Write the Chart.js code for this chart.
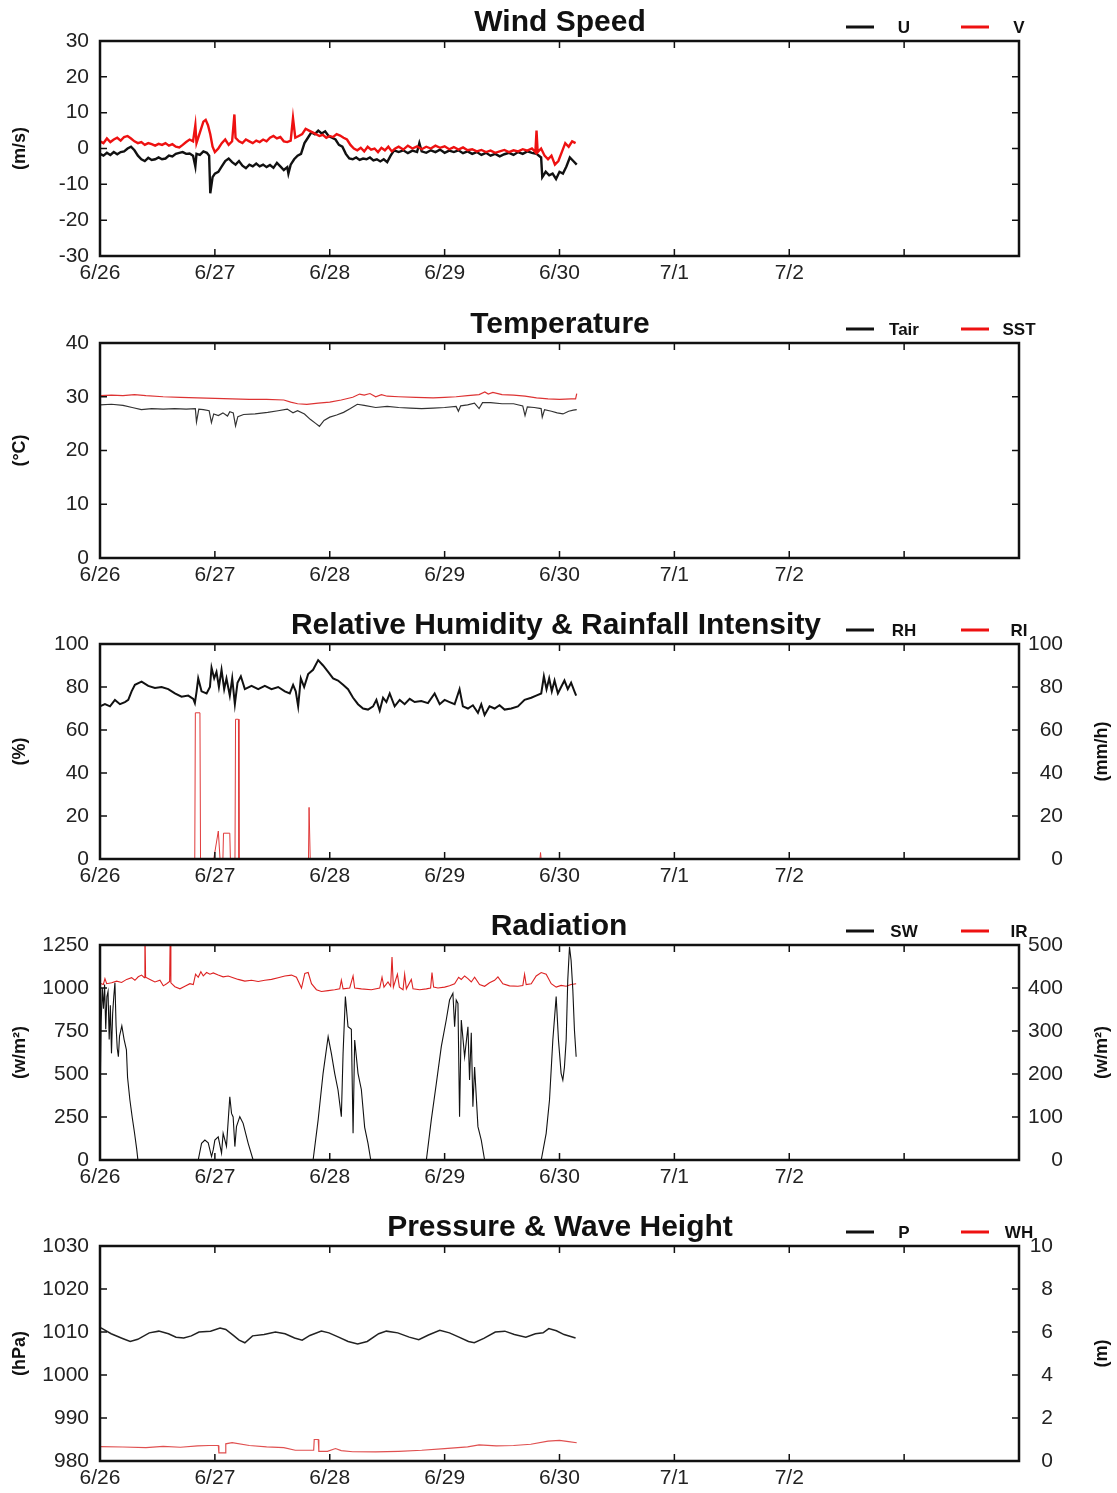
<!DOCTYPE html>
<html>
<head>
<meta charset="utf-8">
<title>Buoy observations 6/26 - 7/4</title>
<script src="https://cdn.jsdelivr.net/npm/chart.js@4.4.0/dist/chart.umd.min.js"></script>
<style>
  body { margin: 0; background: #fff; overflow: hidden; }
  #wrap { position: relative; width: 1117px; height: 1493px; }
  .panel { position: absolute; left: 0; width: 1117px; }
  canvas { display: block; }
</style>
</head>
<body>
<div id="wrap">
  <div class="panel" style="top:0px"><canvas id="wind" width="1117" height="301"></canvas></div>
  <div class="panel" style="top:302px"><canvas id="temp" width="1117" height="301"></canvas></div>
  <div class="panel" style="top:603px"><canvas id="humid" width="1117" height="301"></canvas></div>
  <div class="panel" style="top:904px"><canvas id="rad" width="1117" height="301"></canvas></div>
  <div class="panel" style="top:1205px"><canvas id="press" width="1117" height="288"></canvas></div>
</div>
<script>
// time axis: days since 6/26 00:00
const dayLabels = ['6/26', '6/27', '6/28', '6/29', '6/30', '7/1', '7/2', '', ''];

// [day, m/s]
const uWind = [
  [0.00,-1.5],[0.03,-2.0],[0.06,-1.2],[0.09,-1.8],[0.12,-1.0],[0.15,-1.6],[0.18,-1.0],[0.21,-0.8],
  [0.24,0.0],[0.27,0.5],[0.30,-0.5],[0.33,-2.0],[0.36,-3.0],[0.39,-3.5],[0.42,-2.6],[0.45,-3.2],
  [0.48,-3.0],[0.51,-2.5],[0.54,-3.0],[0.57,-2.8],[0.60,-2.0],[0.63,-2.2],[0.66,-1.5],[0.69,-1.2],
  [0.72,-1.0],[0.75,-1.5],[0.78,-1.4],[0.81,-2.0],[0.83,-5.0],[0.84,-1.5],[0.87,-1.8],[0.90,-0.8],
  [0.93,-1.2],[0.95,-2.0],[0.96,-12.5],[0.98,-8.0],[1.00,-7.0],[1.03,-6.5],[1.06,-5.0],[1.09,-3.5],
  [1.12,-2.8],[1.15,-3.8],[1.18,-4.5],[1.21,-3.5],[1.24,-4.8],[1.27,-5.5],[1.30,-4.5],[1.33,-5.0],
  [1.36,-4.2],[1.39,-5.0],[1.42,-4.5],[1.45,-5.2],[1.48,-4.6],[1.51,-5.4],[1.54,-4.0],[1.57,-5.0],
  [1.60,-6.0],[1.63,-5.2],[1.64,-7.0],[1.66,-4.5],[1.69,-3.0],[1.72,-2.0],[1.75,-1.5],[1.78,1.5],
  [1.81,3.0],[1.84,4.5],[1.87,4.0],[1.90,5.0],[1.93,4.2],[1.96,4.8],[1.99,3.5],[2.02,3.0],
  [2.05,2.5],[2.08,1.0],[2.11,0.5],[2.14,-1.5],[2.17,-2.8],[2.20,-3.0],[2.23,-2.5],[2.26,-3.2],
  [2.29,-2.8],[2.32,-3.0],[2.35,-2.5],[2.38,-3.3],[2.41,-3.0],[2.44,-3.6],[2.47,-3.0],[2.50,-3.8],
  [2.53,-2.0],[2.56,-0.5],[2.60,-1.0],[2.64,-0.5],[2.68,-1.3],[2.72,-0.6],[2.76,-1.0],[2.78,1.5],
  [2.80,-0.8],[2.84,-1.2],[2.88,-0.5],[2.92,-1.0],[2.96,-0.3],[3.00,-1.2],[3.04,-0.6],[3.08,-1.0],
  [3.12,-0.5],[3.16,-1.3],[3.20,-0.8],[3.24,-1.5],[3.28,-1.0],[3.32,-1.8],[3.36,-1.2],[3.40,-2.0],
  [3.44,-1.5],[3.48,-2.2],[3.52,-1.6],[3.56,-1.2],[3.60,-1.8],[3.64,-1.0],[3.68,-1.5],[3.72,-0.8],
  [3.76,-1.2],[3.80,-1.5],[3.84,-2.5],[3.85,-8.0],[3.88,-6.5],[3.91,-7.5],[3.94,-7.0],[3.97,-8.5],
  [4.00,-6.5],[4.03,-7.0],[4.06,-5.0],[4.09,-2.5],[4.12,-3.5],[4.15,-4.5]
];
const vWind = [
  [0.00,2.0],[0.03,1.5],[0.06,2.8],[0.09,1.8],[0.12,2.5],[0.15,3.0],[0.18,2.2],[0.21,3.2],
  [0.24,3.5],[0.27,2.8],[0.30,2.0],[0.33,1.5],[0.36,1.8],[0.39,1.0],[0.42,1.5],[0.45,1.2],
  [0.48,0.8],[0.51,1.3],[0.54,1.0],[0.57,1.5],[0.60,0.8],[0.63,1.2],[0.66,0.5],[0.69,0.3],
  [0.72,1.0],[0.75,1.8],[0.78,2.5],[0.81,2.0],[0.83,6.5],[0.84,1.5],[0.87,4.5],[0.90,7.5],
  [0.92,8.0],[0.94,6.5],[0.96,4.0],[0.98,0.5],[1.00,-1.0],[1.03,0.0],[1.06,1.5],[1.09,2.5],
  [1.12,1.0],[1.15,2.0],[1.17,9.5],[1.18,3.0],[1.21,2.0],[1.24,1.5],[1.27,2.5],[1.30,2.0],
  [1.33,1.5],[1.36,2.2],[1.39,1.8],[1.42,2.5],[1.45,2.0],[1.48,3.0],[1.51,3.5],[1.54,2.8],
  [1.57,3.2],[1.60,2.0],[1.63,1.8],[1.66,2.2],[1.68,8.5],[1.70,3.0],[1.73,3.5],[1.76,4.0],
  [1.79,5.5],[1.82,5.0],[1.85,4.5],[1.88,4.0],[1.91,3.5],[1.94,3.8],[1.97,3.0],[2.00,3.5],
  [2.03,3.2],[2.06,4.0],[2.09,3.6],[2.12,3.0],[2.15,2.5],[2.18,1.0],[2.21,0.0],[2.24,-0.5],
  [2.27,0.2],[2.30,-0.8],[2.33,0.5],[2.36,-0.3],[2.39,0.0],[2.42,-1.0],[2.45,0.2],[2.48,-0.5],
  [2.51,0.5],[2.54,-0.8],[2.57,0.0],[2.60,0.5],[2.64,-0.3],[2.68,0.8],[2.72,0.0],[2.76,0.6],
  [2.80,-0.2],[2.84,0.5],[2.88,0.0],[2.92,0.8],[2.96,0.2],[3.00,0.6],[3.04,-0.2],[3.08,0.4],
  [3.12,-0.3],[3.16,0.3],[3.20,-0.5],[3.24,-0.2],[3.28,-0.8],[3.32,-0.4],[3.36,-1.0],[3.40,-0.6],
  [3.44,-1.2],[3.48,-0.8],[3.52,-0.4],[3.56,-1.0],[3.60,-0.5],[3.64,-0.8],[3.68,-0.2],[3.72,-0.6],
  [3.76,0.0],[3.79,-1.0],[3.80,5.0],[3.81,-1.0],[3.84,0.0],[3.87,-2.0],[3.90,-3.0],[3.93,-2.0],
  [3.96,-4.5],[3.99,-3.5],[4.02,-1.0],[4.05,1.5],[4.08,0.5],[4.11,2.0],[4.14,1.5]
];

// [day, deg C]
const airTemp = [
  [0.00,28.5],[0.10,28.6],[0.20,28.4],[0.28,28.0],[0.36,27.6],[0.45,27.8],[0.55,27.7],[0.65,27.8],
  [0.75,27.7],[0.83,27.8],[0.84,25.3],[0.86,27.7],[0.90,27.6],[0.95,27.4],[0.97,25.2],[0.99,26.8],
  [1.03,26.5],[1.07,27.0],[1.11,26.4],[1.13,27.2],[1.16,27.0],[1.18,24.6],[1.20,26.3],[1.25,26.7],
  [1.35,26.8],[1.46,27.1],[1.55,27.4],[1.63,27.7],[1.68,27.0],[1.72,27.4],[1.78,26.8],[1.83,25.8],
  [1.88,25.0],[1.91,24.5],[1.95,25.6],[2.00,26.2],[2.06,26.6],[2.12,27.1],[2.18,27.8],[2.24,28.6],
  [2.30,28.4],[2.40,28.0],[2.50,28.2],[2.60,28.0],[2.70,27.9],[2.80,27.8],[2.90,27.9],[3.00,28.0],
  [3.10,28.2],[3.12,27.3],[3.14,28.3],[3.20,28.5],[3.26,28.8],[3.30,27.8],[3.33,28.9],[3.40,28.9],
  [3.50,28.7],[3.60,28.7],[3.68,28.3],[3.70,26.5],[3.72,28.1],[3.78,28.0],[3.84,27.8],[3.85,26.2],
  [3.87,27.6],[3.93,27.3],[3.98,27.0],[4.03,26.8],[4.08,27.3],[4.12,27.5],[4.15,27.6]
];
const seaTemp = [
  [0.00,30.2],[0.10,30.3],[0.20,30.2],[0.30,30.4],[0.40,30.2],[0.55,30.0],[0.70,29.9],[0.85,29.8],
  [1.00,29.7],[1.15,29.6],[1.30,29.5],[1.45,29.5],[1.60,29.4],[1.66,29.0],[1.72,28.7],[1.80,28.6],
  [1.90,28.8],[2.00,29.0],[2.10,29.4],[2.20,29.9],[2.26,30.5],[2.30,30.3],[2.35,30.6],[2.40,30.0],
  [2.45,30.4],[2.50,30.1],[2.60,30.0],[2.75,29.9],[2.90,29.8],[3.00,29.9],[3.10,30.0],[3.20,30.2],
  [3.30,30.4],[3.35,30.9],[3.38,30.5],[3.42,30.8],[3.50,30.4],[3.60,30.3],[3.70,30.1],[3.80,29.8],
  [3.90,29.6],[4.00,29.5],[4.10,29.6],[4.14,29.6],[4.15,30.6]
];

// [day, %]
const relHumid = [
  [0.000,71],[0.043,72],[0.087,71],[0.130,74],[0.174,72],[0.217,73],[0.246,74],[0.275,78],
  [0.304,81],[0.362,82.5],[0.420,80.5],[0.478,79.5],[0.536,80],[0.594,79],[0.652,77],[0.710,75.5],
  [0.768,76],[0.812,74.5],[0.826,72.5],[0.841,78],[0.855,84],[0.884,78],[0.928,77],[0.957,80],
  [0.971,89],[0.994,84],[1.014,87],[1.035,80],[1.058,88],[1.081,79],[1.101,84],[1.130,76],
  [1.151,84],[1.174,72],[1.197,82],[1.226,85],[1.261,79],[1.319,80.5],[1.377,79],[1.435,80.5],
  [1.493,79],[1.551,80],[1.609,78],[1.652,77],[1.681,81],[1.704,78],[1.725,71],[1.748,84],
  [1.777,80],[1.812,86],[1.855,88],[1.899,92.5],[1.942,90],[1.986,87],[2.029,84],[2.072,83],
  [2.116,81],[2.159,79],[2.203,75],[2.246,72],[2.290,70],[2.333,69.5],[2.377,71],[2.406,74],
  [2.435,69],[2.464,75],[2.493,73],[2.522,77],[2.565,71],[2.609,74],[2.652,72],[2.696,74.5],
  [2.739,73],[2.797,73.5],[2.855,72.5],[2.913,77],[2.957,72],[3.000,74],[3.043,73],[3.087,72],
  [3.130,79],[3.159,71],[3.203,70],[3.246,71.5],[3.290,68],[3.319,72],[3.348,67],[3.391,71],
  [3.435,70],[3.478,71.5],[3.522,69.5],[3.580,70],[3.638,71],[3.696,74],[3.754,75],[3.797,76],
  [3.841,77],[3.864,85],[3.887,79],[3.910,84],[3.933,78],[3.957,83],[3.986,77],[4.014,80],
  [4.043,83],[4.072,79],[4.101,82],[4.130,78],[4.145,76]
];
// [day, mm/h]
const rainRate = [
  [0.000,0],[0.825,0],[0.830,68],[0.870,68],[0.875,0],[0.990,0],[1.030,13],[1.045,0],
  [1.070,0],[1.075,12],[1.130,12],[1.135,0],[1.175,0],[1.180,65],[1.205,65],[1.210,0],
  [1.815,0],[1.820,24],[1.830,0],[3.830,0],[3.835,3],[3.840,0],[4.150,0]
];

// [day, W/m2]
const shortWave = [
  [0.00,300],[0.01,800],[0.02,1000],[0.03,880],[0.04,1020],[0.05,760],[0.06,950],[0.07,980],
  [0.08,700],[0.09,900],[0.10,620],[0.11,850],[0.12,950],[0.13,1030],[0.14,780],[0.15,650],
  [0.16,600],[0.17,720],[0.19,780],[0.21,700],[0.23,640],[0.24,480],[0.26,350],[0.28,250],
  [0.30,160],[0.32,60],[0.33,0],
  [0.855,0],[0.884,97],[0.913,116],[0.942,100],[0.971,20],[0.986,60],[1.000,116],[1.029,135],
  [1.058,40],[1.072,155],[1.101,80],[1.130,368],[1.145,271],[1.159,250],[1.174,78],[1.188,194],
  [1.217,252],[1.246,213],[1.290,97],[1.333,0],
  [1.855,0],[1.899,233],[1.942,504],[1.986,717],[2.014,620],[2.043,504],[2.072,407],[2.101,252],
  [2.116,620],[2.136,950],[2.159,775],[2.188,760],[2.203,155],[2.217,698],[2.246,504],[2.275,410],
  [2.304,190],[2.333,97],[2.357,0],
  [2.841,0],[2.884,233],[2.928,446],[2.971,659],[3.014,814],[3.043,930],[3.072,969],[3.087,775],
  [3.101,930],[3.116,910],[3.130,252],[3.145,814],[3.174,600],[3.203,775],[3.217,465],[3.232,740],
  [3.246,310],[3.261,540],[3.290,194],[3.319,116],[3.348,0],
  [3.841,0],[3.884,155],[3.913,349],[3.942,698],[3.971,950],[3.991,698],[4.014,504],[4.029,465],
  [4.043,540],[4.058,698],[4.072,1047],[4.087,1240],[4.101,1160],[4.116,988],[4.130,756],[4.145,600]
];
const longWave = [
  [0.000,411],[0.029,408],[0.043,422],[0.058,410],[0.101,412],[0.145,416],[0.188,413],[0.232,420],
  [0.275,424],[0.304,418],[0.333,426],[0.362,430],[0.386,424],[0.391,540],[0.397,425],[0.435,420],
  [0.478,414],[0.522,418],[0.551,405],[0.580,410],[0.606,415],[0.612,540],[0.617,412],[0.652,403],
  [0.696,398],[0.739,404],[0.783,410],[0.812,408],[0.832,432],[0.855,425],[0.878,438],[0.899,428],
  [0.928,436],[0.957,432],[0.986,435],[1.029,430],[1.072,426],[1.116,428],[1.159,424],[1.203,420],
  [1.261,416],[1.319,418],[1.377,415],[1.435,418],[1.493,420],[1.551,424],[1.609,428],[1.667,430],
  [1.710,425],[1.754,400],[1.783,434],[1.812,436],[1.841,410],[1.884,396],[1.928,392],[1.986,394],
  [2.043,396],[2.087,398],[2.101,418],[2.116,398],[2.174,400],[2.203,428],[2.217,400],[2.275,398],
  [2.362,396],[2.435,400],[2.455,425],[2.472,402],[2.507,414],[2.530,404],[2.542,472],[2.554,402],
  [2.589,432],[2.606,402],[2.638,396],[2.652,432],[2.667,398],[2.710,420],[2.725,398],[2.783,396],
  [2.841,398],[2.878,400],[2.890,436],[2.904,402],[2.942,400],[3.000,402],[3.043,405],[3.087,410],
  [3.122,425],[3.145,420],[3.174,428],[3.203,422],[3.232,414],[3.261,425],[3.304,408],[3.348,404],
  [3.391,412],[3.435,418],[3.464,426],[3.507,410],[3.565,405],[3.638,404],[3.681,406],[3.696,432],
  [3.710,408],[3.754,410],[3.797,428],[3.841,436],[3.884,432],[3.928,410],[3.971,402],[4.014,406],
  [4.058,404],[4.101,408],[4.145,410]
];

// [day, hPa]
const pressure = [
  [0.000,1011.0],[0.013,1010.9],[0.097,1009.6],[0.196,1008.5],[0.263,1007.8],[0.329,1008.3],[0.429,1009.8],[0.512,1010.2],
  [0.596,1009.6],[0.662,1008.8],[0.729,1008.6],[0.795,1009.1],[0.862,1010.0],[0.962,1010.2],[1.045,1010.9],[1.095,1010.6],
  [1.161,1009.2],[1.211,1008.1],[1.261,1007.5],[1.328,1009.1],[1.428,1009.4],[1.527,1010.0],[1.611,1009.6],[1.694,1008.6],
  [1.760,1008.1],[1.827,1009.2],[1.927,1010.2],[1.993,1009.8],[2.077,1008.8],[2.160,1007.8],[2.243,1007.2],[2.326,1007.8],
  [2.426,1009.6],[2.493,1010.2],[2.592,1009.8],[2.692,1008.8],[2.775,1008.2],[2.859,1009.3],[2.958,1010.4],[3.042,1009.8],
  [3.125,1008.8],[3.208,1007.8],[3.258,1007.5],[3.341,1008.5],[3.441,1010.0],[3.524,1010.2],[3.607,1009.4],[3.707,1008.8],
  [3.790,1009.6],[3.857,1009.8],[3.907,1010.8],[3.973,1010.3],[4.040,1009.4],[4.140,1008.6]
];
// [day, m]
const waveHeight = [
  [0.00,0.67],[0.20,0.65],[0.40,0.62],[0.55,0.68],[0.70,0.64],[0.85,0.70],[0.95,0.72],[1.030,0.72],
  [1.035,0.38],[1.090,0.38],[1.095,0.80],[1.15,0.85],[1.30,0.72],[1.45,0.66],[1.60,0.62],[1.70,0.50],
  [1.860,0.50],[1.865,1.00],[1.900,1.00],[1.905,0.45],[1.98,0.45],[2.05,0.58],[2.10,0.48],[2.20,0.43],
  [2.40,0.42],[2.60,0.45],[2.80,0.50],[3.00,0.58],[3.20,0.66],[3.30,0.75],[3.45,0.70],[3.60,0.72],
  [3.75,0.78],[3.90,0.92],[4.00,0.96],[4.08,0.90],[4.15,0.85]
];

const BLACK = '#111111';
const RED = '#ee1111';
const FONT = '"Liberation Sans", Arial, Helvetica, sans-serif';

Chart.defaults.font.family = FONT;
Chart.defaults.font.size = 21;
Chart.defaults.color = '#222';

// frame with inward ticks, title, key and rotated unit labels
const panelDecor = {
  id: 'panelDecor',
  afterDatasetsDraw(chart, args, o) {
    const { ctx, chartArea: a, scales } = chart;
    const tick = 7;
    ctx.save();
    ctx.strokeStyle = BLACK;
    ctx.lineWidth = 1.5;
    ctx.beginPath();
    scales.x.ticks.forEach(t => {
      const px = scales.x.getPixelForValue(t.value);
      ctx.moveTo(px, a.bottom); ctx.lineTo(px, a.bottom - tick);
      ctx.moveTo(px, a.top); ctx.lineTo(px, a.top + tick);
    });
    scales.y.ticks.forEach(t => {
      const py = scales.y.getPixelForValue(t.value);
      ctx.moveTo(a.left, py); ctx.lineTo(a.left + tick, py);
    });
    scales.y2.ticks.forEach(t => {
      const py = scales.y2.getPixelForValue(t.value);
      ctx.moveTo(a.right, py); ctx.lineTo(a.right - tick, py);
    });
    ctx.stroke();
    ctx.lineWidth = 2.5;
    ctx.strokeRect(a.left, a.top, a.right - a.left, a.bottom - a.top);
    ctx.restore();
  },
  afterDraw(chart, args, o) {
    const { ctx, chartArea: a } = chart;
    const midY = (a.top + a.bottom) / 2;
    ctx.save();
    ctx.fillStyle = BLACK;
    ctx.textAlign = 'center';
    ctx.textBaseline = 'middle';
    ctx.font = `bold 30px ${FONT}`;
    ctx.fillText(o.title, o.titleX, a.top - 18);

    ctx.font = `bold 17px ${FONT}`;
    o.keys.forEach((k, i) => {
      const x0 = 846 + i * 115;
      ctx.strokeStyle = k.color;
      ctx.lineWidth = 3;
      ctx.beginPath();
      ctx.moveTo(x0, a.top - 14);
      ctx.lineTo(x0 + 28, a.top - 14);
      ctx.stroke();
      ctx.fillText(k.label, x0 + 58, a.top - 13);
    });

    ctx.font = `bold 18px ${FONT}`;
    [[o.yLabel, 20], [o.y2Label, 1102]].forEach(([txt, x]) => {
      if (!txt) return;
      ctx.save();
      ctx.translate(x, midY);
      ctx.rotate(-Math.PI / 2);
      ctx.fillText(txt, 0, 0);
      ctx.restore();
    });
    ctx.restore();
  }
};

// left axis box is 100px wide; the right one ends where its labels end
function axis(pos, range, showLabels, boxWidth) {
  return {
    type: 'linear',
    position: pos,
    min: range[0], max: range[1],
    grid: { display: false, drawTicks: false },
    border: { display: false },
    ticks: {
      display: showLabels,
      stepSize: range[2],
      padding: pos === 'left' ? 11 : 0,
      crossAlign: pos === 'left' ? 'near' : 'far',
      callback: v => String(v)
    },
    afterFit: s => { s.width = boxWidth; }
  };
}

function makePanel(p) {
  const cv = document.getElementById(p.id);
  const H = cv.height;
  const rightW = p.y2Width || 44;
  return new Chart(cv, {
    type: 'line',
    data: {
      datasets: p.sets.map(s => ({
        label: s.label,
        data: s.data.map(([x, y]) => ({ x, y })),
        yAxisID: s.axis || 'y',
        borderColor: s.color,
        borderWidth: s.width,
        pointRadius: 0,
        tension: 0,
        fill: false,
        clip: 0,
        order: s.order || 0
      }))
    },
    options: {
      responsive: false,
      animation: false,
      events: [],
      layout: { padding: { top: 41, left: 0, right: 98 - rightW, bottom: 0 } },
      plugins: {
        legend: { display: false },
        tooltip: { enabled: false },
        panelDecor: {
          title: p.title, titleX: p.titleX,
          keys: p.sets.map(s => ({ label: s.label, color: s.keyColor || s.color })),
          yLabel: p.yLabel, y2Label: p.y2Label
        }
      },
      scales: {
        x: {
          type: 'linear', min: 0, max: 8,
          grid: { display: false, drawTicks: false },
          border: { display: false },
          ticks: {
            stepSize: 1, padding: 5, maxRotation: 0, autoSkip: false,
            callback: v => dayLabels[v] ?? ''
          },
          afterFit: s => { s.height = H - 41 - 215; }
        },
        y: axis('left', p.y, true, 100),
        y2: axis('right', p.y2 || p.y, !!p.y2, rightW)
      }
    },
    plugins: [panelDecor]
  });
}

makePanel({
  id: 'wind', title: 'Wind Speed', titleX: 560, yLabel: '(m/s)',
  y: [-30, 30, 10],
  sets: [
    { label: 'U', data: uWind, color: BLACK, width: 2.4, order: 1 },
    { label: 'V', data: vWind, color: RED, width: 2.4, order: 0 }
  ]
});

makePanel({
  id: 'temp', title: 'Temperature', titleX: 560, yLabel: '(\u00B0C)',
  y: [0, 40, 10],
  sets: [
    { label: 'Tair', data: airTemp, color: '#333333', keyColor: BLACK, width: 1.2 },
    { label: 'SST', data: seaTemp, color: '#dd3333', keyColor: RED, width: 1.2 }
  ]
});

makePanel({
  id: 'humid', title: 'Relative Humidity & Rainfall Intensity', titleX: 556,
  yLabel: '(%)', y2Label: '(mm/h)',
  y: [0, 100, 20], y2: [0, 100, 20], y2Width: 44,
  sets: [
    { label: 'RH', data: relHumid, color: BLACK, width: 2 },
    { label: 'RI', data: rainRate, color: '#e03a3a', keyColor: RED, width: 1, axis: 'y2' }
  ]
});

makePanel({
  id: 'rad', title: 'Radiation', titleX: 559,
  yLabel: '(w/m\u00B2)', y2Label: '(w/m\u00B2)',
  y: [0, 1250, 250], y2: [0, 500, 100], y2Width: 44,
  sets: [
    { label: 'SW', data: shortWave, color: BLACK, width: 1.1 },
    { label: 'IR', data: longWave, color: '#dd2222', keyColor: RED, width: 1.1, axis: 'y2' }
  ]
});

makePanel({
  id: 'press', title: 'Pressure & Wave Height', titleX: 560,
  yLabel: '(hPa)', y2Label: '(m)',
  y: [980, 1030, 10], y2: [0, 10, 2], y2Width: 34,
  sets: [
    { label: 'P', data: pressure, color: '#222222', keyColor: BLACK, width: 1.5 },
    { label: 'WH', data: waveHeight, color: '#e05050', keyColor: RED, width: 1.2, axis: 'y2' }
  ]
});
</script>
</body>
</html>
